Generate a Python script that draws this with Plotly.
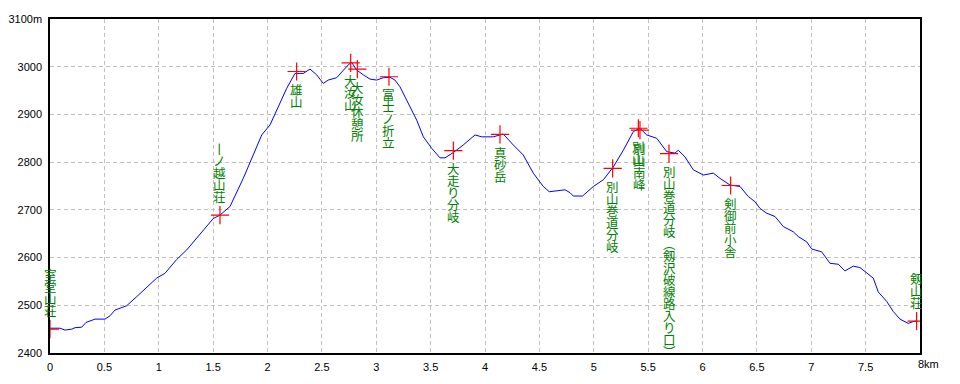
import plotly.graph_objects as go

# elevation profile (distance km, elevation m)
dist_km = [0.000, 0.092, 0.138, 0.200, 0.230, 0.291, 0.331, 0.414, 0.506, 0.552,
           0.598, 0.705, 0.797, 0.889, 0.981, 1.057, 1.165, 1.257, 1.318, 1.410,
           1.502, 1.563, 1.655, 1.777, 1.869, 1.947, 2.023, 2.099, 2.177, 2.253,
           2.329, 2.391, 2.452, 2.513, 2.559, 2.636, 2.697, 2.743, 2.774, 2.820,
           2.881, 2.943, 3.004, 3.065, 3.126, 3.172, 3.218, 3.310, 3.372, 3.433,
           3.510, 3.586, 3.632, 3.708, 3.800, 3.908, 3.970, 4.076, 4.168, 4.260,
           4.352, 4.444, 4.536, 4.591, 4.650, 4.736, 4.782, 4.812, 4.897, 4.996,
           5.088, 5.180, 5.272, 5.364, 5.425, 5.487, 5.579, 5.671, 5.747, 5.777,
           5.839, 5.915, 6.007, 6.099, 6.161, 6.253, 6.345, 6.421, 6.483, 6.529,
           6.590, 6.667, 6.743, 6.835, 6.881, 6.958, 7.004, 7.096, 7.172, 7.249,
           7.310, 7.386, 7.448, 7.510, 7.570, 7.616, 7.694, 7.754, 7.816, 7.892,
           7.938, 7.970]
elev_m = [2452, 2452, 2448, 2450, 2453, 2454, 2464, 2471, 2471, 2478,
          2490, 2499, 2518, 2538, 2557, 2567, 2596, 2616, 2633, 2658,
          2682, 2689, 2707, 2766, 2815, 2857, 2878, 2916, 2955, 2986,
          2986, 2995, 2983, 2965, 2972, 2977, 2993, 3004, 3009, 2993,
          2983, 2974, 2972, 2977, 2978, 2972, 2958, 2916, 2888, 2853,
          2829, 2809, 2809, 2820, 2836, 2857, 2853, 2853, 2859, 2836,
          2815, 2777, 2749, 2738, 2740, 2742, 2736, 2729, 2729, 2749,
          2763, 2790, 2825, 2864, 2871, 2857, 2850, 2822, 2819, 2825,
          2811, 2784, 2773, 2777, 2766, 2752, 2749, 2728, 2717, 2703,
          2693, 2686, 2665, 2654, 2644, 2633, 2618, 2612, 2588, 2586,
          2572, 2582, 2579, 2567, 2557, 2528, 2508, 2487, 2471, 2462,
          2466, 2467]

# waypoints
wp_names = ["室堂山荘", "一ノ越山荘", "雄山", "大汝休憩所", "大汝山", "富士ノ折立",
            "大走り分岐", "真砂岳", "別山巻道分岐", "別山南峰", "別山",
            "別山巻道分岐（剱沢破線路入り口）", "剣御前小舎", "剱山荘"]
wp_km = [0.000, 1.563, 2.268, 2.826, 2.765, 3.117, 3.709, 4.138, 5.174, 5.425,
         5.410, 5.692, 6.259, 7.969]
wp_elev = [2450, 2689, 2990, 2995, 3008, 2979, 2824, 2858, 2787, 2867,
           2871, 2818, 2751, 2467]
wp_above = [True, True, False, False, False, False, False, False, False, False,
            False, False, False, True]

x_ticks = [0, 0.5, 1, 1.5, 2, 2.5, 3, 3.5, 4, 4.5, 5, 5.5, 6, 6.5, 7, 7.5, 8]
x_ticktext = ["0", "0.5", "1", "1.5", "2", "2.5", "3", "3.5", "4", "4.5", "5",
              "5.5", "6", "6.5", "7", "7.5", ""]
y_ticks = [2400, 2500, 2600, 2700, 2800, 2900, 3000, 3100]
y_ticktext = ["2400", "2500", "2600", "2700", "2800", "2900", "3000", "3100m"]

VERT = {"一": "丨", "（": "︵", "）": "︶", "ー": "丨"}
CH_STEP = 12
LBL_FONT = dict(family="Noto Sans CJK JP", size=12.5, color="#008000")
TICK_FONT = dict(family="Liberation Sans", size=11, color="#000000")

fig = go.Figure()
fig.add_trace(go.Scatter(x=dist_km, y=elev_m, mode="lines",
                         line=dict(color="#0000FF", width=1), hoverinfo="skip"))
fig.add_trace(go.Scatter(x=wp_km, y=wp_elev, mode="markers",
                         marker=dict(symbol="cross-thin", size=13,
                                     line=dict(color="#FF0000", width=1.2)),
                         hoverinfo="skip"))

annotations = []
for name, xk, ye, above in zip(wp_names, wp_km, wp_elev, wp_above):
    chars = [VERT.get(c, c) for c in name]
    n = len(chars)
    for i, c in enumerate(chars):
        if above:
            ys = 19 + CH_STEP * (n - 1 - i)
        else:
            ys = -(18 + CH_STEP * i)
        annotations.append(dict(x=xk, y=ye, xref="x", yref="y", text=c,
                                showarrow=False, yshift=ys, font=LBL_FONT,
                                xanchor="center", yanchor="middle",
                                borderpad=0))
annotations.append(dict(x=8, y=0, xref="x", yref="paper", text="8km",
                        showarrow=False, xanchor="left", yanchor="top",
                        xshift=-4, yshift=-3, font=TICK_FONT))

grid = dict(showgrid=True, gridcolor="#C0C0C0", gridwidth=1, griddash="4px,3px",
            zeroline=False, showline=True, linecolor="#000000", linewidth=1.5,
            mirror=True, ticks="", tickfont=TICK_FONT, automargin=False)

fig.update_layout(
    width=960, height=384,
    margin=dict(l=42, r=48, t=11, b=39),
    paper_bgcolor="#FFFFFF", plot_bgcolor="#FFFFFF",
    showlegend=False,
    annotations=annotations,
    xaxis=dict(range=[0, 8], tickvals=x_ticks, ticktext=x_ticktext,
               ticklabelstandoff=3, **grid),
    yaxis=dict(range=[2400, 3100], tickvals=y_ticks, ticktext=y_ticktext,
               ticklabelstandoff=4, **grid),
)

fig.write_html("out.html")
